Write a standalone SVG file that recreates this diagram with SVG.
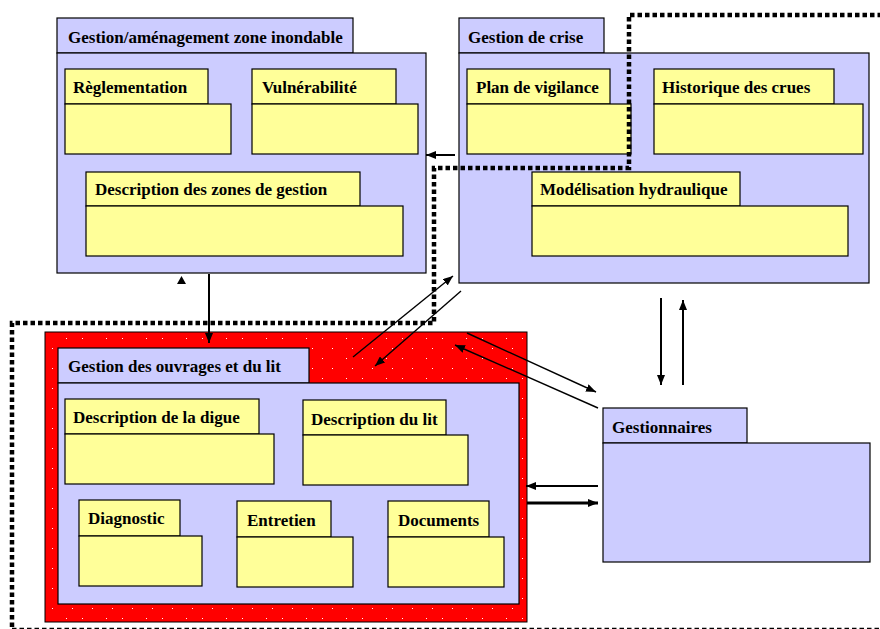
<svg xmlns="http://www.w3.org/2000/svg" width="880" height="629" viewBox="0 0 880 629">
<defs>
<style>
.lav{fill:#ccccff;stroke:#000;stroke-width:1.2}
.yel{fill:#ffff99;stroke:#000;stroke-width:1.2}
text{font-family:"Liberation Serif","Times New Roman",serif;font-weight:bold;font-size:17px;fill:#000}
.ln{stroke:#000;stroke-width:2;fill:none}
.thk{stroke:#000;stroke-width:3;fill:none}
.thin{stroke:#000;stroke-width:1.4;fill:none}
.dot{stroke:#000;stroke-width:4.5;fill:none;stroke-dasharray:4.5 3}
</style>
<pattern id="reddots" x="0" y="0" width="40" height="20" patternUnits="userSpaceOnUse">
<rect width="40" height="20" fill="#ff0000"/>
<rect x="12" y="8" width="1" height="1" fill="#ffffff"/>
<rect x="32" y="8" width="1" height="1" fill="#ffffff"/>
<rect x="2" y="18" width="1" height="1" fill="#ffffff"/>
<rect x="26" y="18" width="1" height="1" fill="#ffffff"/>
</pattern>
<marker id="ah" viewBox="0 0 10 8" refX="10" refY="4" markerWidth="10" markerHeight="8" markerUnits="userSpaceOnUse" orient="auto">
<path d="M0,0 L10,4 L0,8 z" fill="#000"/>
</marker>
</defs>
<rect width="880" height="629" fill="#ffffff"/>

<g id="zone-inondable">
<rect class="lav" x="57" y="18" width="296" height="35"/>
<rect class="lav" x="57" y="53" width="369" height="220"/>
<text x="68" y="43">Gestion/aménagement zone inondable</text>
<g id="reglementation">
<rect class="yel" x="65" y="69" width="143" height="35"/>
<rect class="yel" x="65" y="104" width="166" height="50"/>
<text x="73" y="93">Règlementation</text>
</g>
<g id="vulnerabilite">
<rect class="yel" x="252" y="69" width="144" height="35"/>
<rect class="yel" x="252" y="104" width="166" height="50"/>
<text x="262" y="93">Vulnérabilité</text>
</g>
<g id="zones-gestion">
<rect class="yel" x="86" y="172" width="274" height="34"/>
<rect class="yel" x="86" y="206" width="317" height="50"/>
<text x="95" y="195">Description des zones de gestion</text>
</g>
</g>

<g id="gestion-crise">
<rect class="lav" x="459" y="18" width="145" height="35"/>
<rect class="lav" x="459" y="53" width="410" height="230"/>
<text x="468" y="43">Gestion de crise</text>
<g id="plan-vigilance">
<rect class="yel" x="467" y="69" width="143" height="35"/>
<rect class="yel" x="467" y="104" width="164" height="50"/>
<text x="476" y="93">Plan de vigilance</text>
</g>
<g id="historique-crues">
<rect class="yel" x="654" y="69" width="180" height="35"/>
<rect class="yel" x="654" y="104" width="209" height="50"/>
<text x="662" y="93">Historique des crues</text>
</g>
<g id="modelisation">
<rect class="yel" x="532" y="172" width="208" height="34"/>
<rect class="yel" x="532" y="206" width="316" height="50"/>
<text x="540" y="195">Modélisation hydraulique</text>
</g>
</g>

<g id="ouvrages-lit">
<rect x="45" y="332" width="482" height="290" fill="url(#reddots)" stroke="#000" stroke-width="1"/>
<rect class="lav" x="58" y="348" width="251" height="35"/>
<rect class="lav" x="58" y="383" width="461" height="221"/>
<text x="68" y="372">Gestion des ouvrages et du lit</text>
<g id="description-digue">
<rect class="yel" x="65" y="399" width="194" height="35"/>
<rect class="yel" x="65" y="434" width="209" height="50"/>
<text x="73" y="423">Description de la digue</text>
</g>
<g id="description-lit">
<rect class="yel" x="303" y="400" width="143" height="35"/>
<rect class="yel" x="303" y="435" width="165" height="50"/>
<text x="311" y="425">Description du lit</text>
</g>
<g id="diagnostic">
<rect class="yel" x="79" y="500" width="101" height="36"/>
<rect class="yel" x="79" y="536" width="123" height="50"/>
<text x="88" y="524">Diagnostic</text>
</g>
<g id="entretien">
<rect class="yel" x="237" y="501" width="94" height="36"/>
<rect class="yel" x="237" y="537" width="116" height="50"/>
<text x="247" y="526">Entretien</text>
</g>
<g id="documents">
<rect class="yel" x="388" y="501" width="101" height="36"/>
<rect class="yel" x="388" y="537" width="116" height="50"/>
<text x="398" y="526">Documents</text>
</g>
</g>

<g id="gestionnaires">
<rect class="lav" x="603" y="408" width="144" height="35"/>
<rect class="lav" x="603" y="443" width="267" height="119"/>
<text x="612" y="433">Gestionnaires</text>
</g>

<path id="perimetre" class="dot" d="M882,15 H629 V168 H434 V323 H12 V630 H882"/>

<g id="connectors">
<line class="ln" x1="455" y1="155" x2="426" y2="155" marker-end="url(#ah)"/>
<line class="ln" x1="209" y1="274" x2="209" y2="343" marker-end="url(#ah)"/>
<polygon points="177,284 186,284 181.5,276" fill="#000"/>
<line class="thin" x1="353" y1="357" x2="453" y2="276" marker-end="url(#ah)"/>
<line class="thin" x1="461" y1="291" x2="375" y2="366" marker-end="url(#ah)"/>
<line class="thin" x1="467" y1="333" x2="596" y2="392" marker-end="url(#ah)"/>
<line class="thin" x1="598" y1="408" x2="455" y2="345" marker-end="url(#ah)"/>
<line class="ln" x1="661" y1="298" x2="661" y2="385" marker-end="url(#ah)"/>
<line class="ln" x1="683" y1="385" x2="683" y2="300" marker-end="url(#ah)"/>
<line class="ln" x1="598" y1="486" x2="526" y2="486" marker-end="url(#ah)"/>
<line class="thk" x1="527" y1="503" x2="598" y2="503" marker-end="url(#ah)"/>
</g>
</svg>
